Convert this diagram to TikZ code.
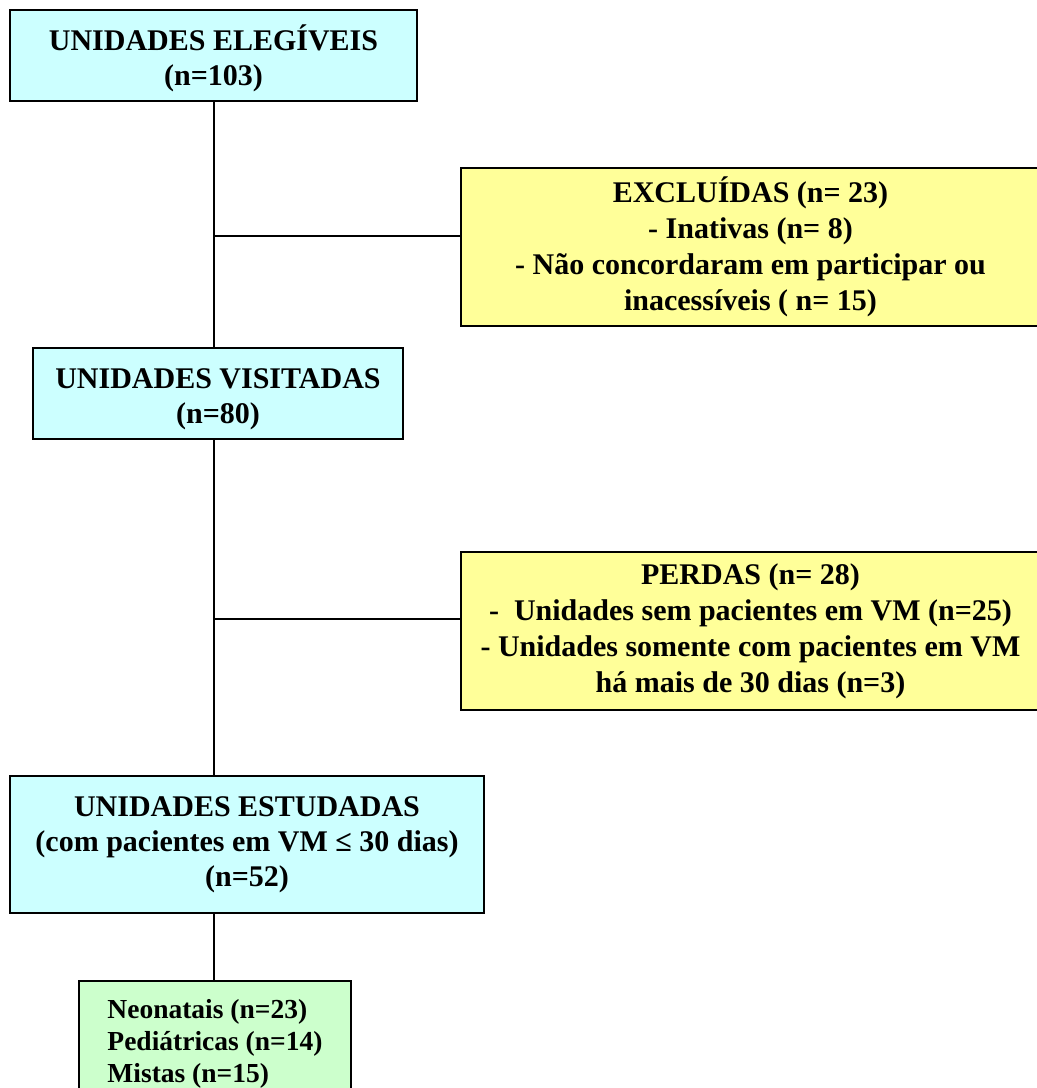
\documentclass[tikz,border=0pt]{standalone}
\usepackage{fontspec}
\setmainfont{Liberation Serif}
\usetikzlibrary{calc}
\definecolor{ciano}{HTML}{CCFFFF}
\definecolor{amarelo}{HTML}{FFFF99}
\definecolor{verde}{HTML}{CCFFCC}
\tikzset{
    caixa/.style={draw, line width=1.9pt, inner sep=0pt, align=center,
        font=\bfseries\fontsize{30}{35}\selectfont},
    unidade/.style={caixa, fill=ciano},
    saida/.style={caixa, fill=amarelo, minimum width=579pt, minimum height=158pt,
        font=\bfseries\fontsize{30}{36}\selectfont},
    linha/.style={line width=1.9pt}
}

\begin{document}
\begin{tikzpicture}[x=1pt, y=-1pt]
    \useasboundingbox (0,0) rectangle (1037,1088);

    \node[unidade, minimum width=407pt, minimum height=91pt, text height=66pt] (elegiveis) at (213.5, 55.5)
        {UNIDADES ELEGÍVEIS\\(n=103)};
    \node[saida] (excluidas) at (750.5, 247)
        {EXCLUÍDAS (n= 23)\\- Inativas (n= 8)\\- Não concordaram em participar ou\\inacessíveis ( n= 15)};
    \node[unidade, minimum width=370pt, minimum height=91pt, text height=66pt] (visitadas) at (218, 393.5)
        {UNIDADES VISITADAS\\(n=80)};
    \node[saida] (perdas) at (750.5, 631)
        {PERDAS (n= 28)\\-\ \ Unidades sem pacientes em VM (n=25)\\- Unidades somente com pacientes em VM\\há mais de 30 dias (n=3)};
    \node[unidade, minimum width=474pt, minimum height=137pt] (estudadas) at (247, 844.5)
        {UNIDADES ESTUDADAS\\(com pacientes em VM ≤ 30 dias)\\(n=52)};
    \node[caixa, fill=verde, anchor=north west, align=left, minimum width=272pt,
        inner xsep=20pt, inner ysep=18pt, font=\bfseries\fontsize{27.5}{32}\selectfont] (tipos) at (78, 980)
        {Neonatais (n=23)\\Pediátricas (n=14)\\Mistas (n=15)};

    \coordinate (j1) at (214, 236);
    \coordinate (j2) at (214, 619);

    \draw[linha] (elegiveis.south -| j1) -- (visitadas.north -| j1);
    \draw[linha] (j1) -- (j1 -| excluidas.west);
    \draw[linha] (visitadas.south -| j1) -- (estudadas.north -| j1);
    \draw[linha] (j2) -- (j2 -| perdas.west);
    \draw[linha] (estudadas.south -| j1) -- (tipos.north -| j1);
\end{tikzpicture}
\end{document}
